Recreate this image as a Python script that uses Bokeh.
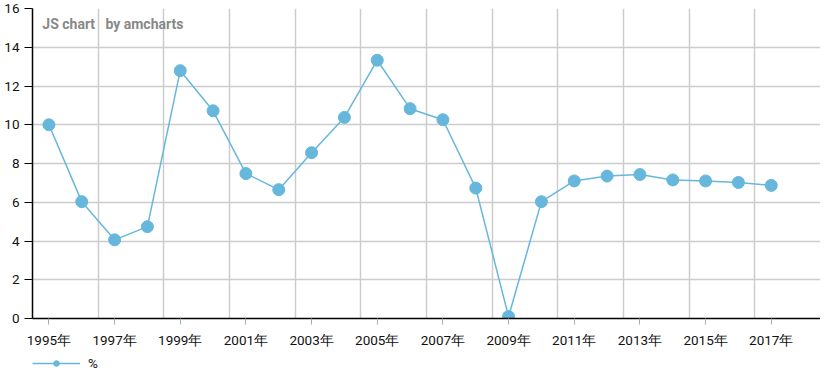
from bokeh.plotting import figure
from bokeh.layouts import column
from bokeh.models import (FixedTicker, SingleIntervalTicker, Range1d, Legend,
                          LegendItem, Label, ColumnDataSource)
from bokeh.embed import file_html
from bokeh.resources import INLINE

# ---- data ----
years = [1995, 1996, 1997, 1998, 1999, 2000, 2001, 2002, 2003, 2004, 2005, 2006,
         2007, 2008, 2009, 2010, 2011, 2012, 2013, 2014, 2015, 2016, 2017]
values = [10.0, 6.03, 4.06, 4.74, 12.79, 10.72, 7.48, 6.65, 8.56, 10.38, 13.33, 10.83,
          10.26, 6.73, 0.1, 6.03, 7.1, 7.35, 7.43, 7.15, 7.1, 7.02, 6.87]
tick_years = [1995, 1997, 1999, 2001, 2003, 2005, 2007, 2009, 2011, 2013, 2015, 2017]
tick_labels = ["1995年", "1997年", "1999年", "2001年", "2003年", "2005年",
               "2007年", "2009年", "2011年", "2013年", "2015年", "2017年"]
series_name = "%"
y_max = 16

COLOR = "#67b7dc"
FONT = "Roboto"

src = ColumnDataSource(dict(x=years, y=values))

p = figure(width=820, height=350, output_backend="svg", toolbar_location=None,
           x_range=Range1d(years[0] - 0.5, years[-1] + 1.5),
           y_range=Range1d(0, y_max),
           min_border_top=8, min_border_right=0, min_border_left=32,
           min_border_bottom=28)
p.outline_line_color = None
p.background_fill_color = "white"
p.border_fill_color = "white"

# grids
p.xgrid.ticker = FixedTicker(ticks=[y + 0.5 for y in years[1::2]] + [years[-1] + 1.5])
p.xgrid.grid_line_color = "#cccccc"
p.xgrid.grid_line_width = 1.5
p.ygrid.ticker = SingleIntervalTicker(interval=2)
p.ygrid.grid_line_color = "#cccccc"
p.ygrid.grid_line_width = 1.5

# x axis
p.xaxis.ticker = FixedTicker(ticks=tick_years)
p.xaxis.major_label_overrides = {y: l for y, l in zip(tick_years, tick_labels)}
p.xaxis.minor_tick_line_color = None
p.xaxis.major_tick_in = 0
p.xaxis.major_tick_out = 6
p.xaxis.major_tick_line_color = "#aaaaaa"
p.xaxis.axis_line_color = "#000000"
p.xaxis.axis_line_width = 1.5
p.xaxis.major_label_standoff = 7
p.xaxis.major_label_text_font = FONT
p.xaxis.major_label_text_font_size = "13.5px"
p.xaxis.major_label_text_color = "#111111"

# y axis
p.yaxis.ticker = SingleIntervalTicker(interval=2)
p.yaxis.minor_tick_line_color = None
p.yaxis.major_tick_in = 0
p.yaxis.major_tick_out = 8
p.yaxis.major_tick_line_color = "#000000"
p.yaxis.axis_line_color = "#000000"
p.yaxis.axis_line_width = 1.5
p.yaxis.major_label_standoff = 5
p.yaxis.major_label_text_font = FONT
p.yaxis.major_label_text_font_size = "13.5px"
p.yaxis.major_label_text_color = "#111111"

# series
ln = p.line("x", "y", source=src, line_color=COLOR, line_width=1.5)
sc = p.scatter("x", "y", source=src, size=12, fill_color=COLOR, line_color=COLOR)

# watermark
for txt, xpos in (("JS chart", years[0] - 0.2), ("by amcharts", years[1] + 0.72)):
    p.add_layout(Label(x=xpos, y=y_max - 0.8, text=txt,
                       text_font=FONT, text_font_size="14px", text_font_style="bold",
                       text_color="#888888", text_baseline="middle"))

# legend strip below the chart (series drawn out of its view, only legend shows)
lg = figure(width=820, height=24, output_backend="svg", toolbar_location=None,
            x_range=Range1d(0, 1), y_range=Range1d(0, 1),
            x_axis_location=None, y_axis_location=None,
            min_border_top=0, min_border_right=0, min_border_left=0,
            min_border_bottom=0)
lg.outline_line_color = None
lg.xgrid.visible = False
lg.ygrid.visible = False
lg_ln = lg.line("x", "y", source=src, line_color=COLOR, line_width=1.5)
lg_sc = lg.scatter("x", "y", source=src, size=12, fill_color=COLOR, line_color=COLOR)

legend = Legend(items=[LegendItem(label=series_name, renderers=[lg_ln, lg_sc])],
                location=(0, 3), orientation="horizontal",
                glyph_width=48, glyph_height=14, border_line_color=None,
                background_fill_alpha=0, label_text_font=FONT,
                label_text_font_size="13.5px", label_text_color="#111111",
                label_height=14, margin=0, padding=2, label_standoff=8)
lg.add_layout(legend, "center")

layout = column(p, lg, spacing=0)
open("out.html", "w").write(file_html(layout, INLINE))
